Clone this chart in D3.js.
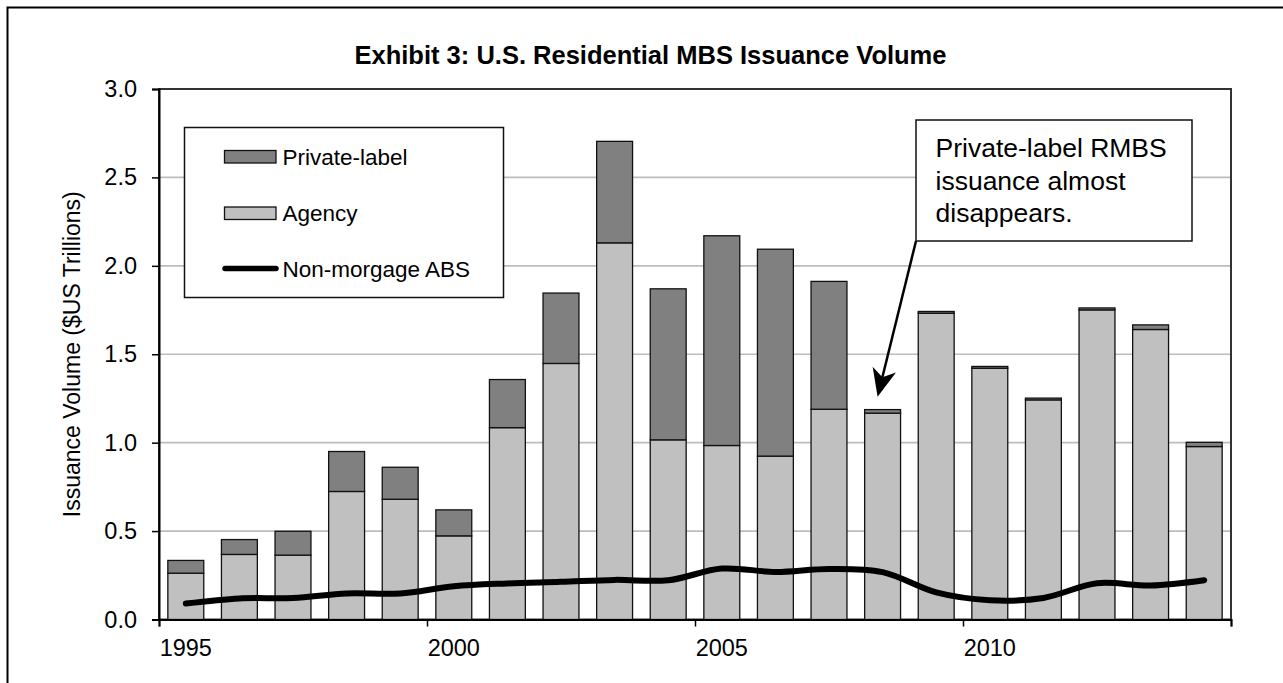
<!DOCTYPE html>
<html>
<head>
<meta charset="utf-8">
<script src="https://cdn.jsdelivr.net/npm/d3@7"></script>
<style>
  html, body { margin: 0; padding: 0; background: #fff; }
  svg { display: block; }
  text { font-family: "Liberation Sans", Arial, sans-serif; fill: #000; }
</style>
</head>
<body>
<svg id="chart" width="1283" height="683"></svg>
<script>
// ---- data ----
const years = ["1995","1996","1997","1998","1999","2000","2001","2002","2003","2004",
               "2005","2006","2007","2008","2009","2010","2011","2012","2013","2014"];
const agency = [0.262,0.368,0.364,0.724,0.680,0.473,1.085,1.448,2.130,1.016,
                0.984,0.924,1.189,1.167,1.732,1.421,1.242,1.751,1.640,0.978];
const privateLabel = [0.072,0.084,0.135,0.226,0.181,0.147,0.272,0.398,0.574,0.854,
                      1.186,1.170,0.723,0.020,0.010,0.010,0.010,0.011,0.026,0.024];
const nonMortgageABS = [0.090,0.119,0.122,0.147,0.147,0.188,0.204,0.213,0.224,0.222,
                        0.288,0.269,0.286,0.268,0.153,0.109,0.122,0.205,0.192,0.222];
const yTicks = [0, 0.5, 1.0, 1.5, 2.0, 2.5, 3.0];
const xTickLabels = ["1995","2000","2005","2010"];
const seriesNames = ["Private-label", "Agency", "Non-morgage ABS"];
const titleText = "Exhibit 3: U.S. Residential MBS Issuance Volume";
const yLabel = "Issuance Volume ($US Trillions)";
const noteLines = ["Private-label RMBS", "issuance almost", "disappears."];
const noteYear = "2008", noteValue = 1.26;

// ---- layout ----
const svg = d3.select("#chart");
const plot = { left: 159, right: 1231, top: 89, bottom: 619.5 };

const x = d3.scaleBand().domain(years).range([plot.left, plot.right])
  .paddingInner(0.33).paddingOuter(0.165);
const xIdx = d3.scaleLinear().domain([0, years.length]).range([plot.left, plot.right]);
const y = d3.scaleLinear().domain([0, 3]).range([plot.bottom, plot.top]);

// outer frame (top and left edges visible)
svg.append("path").attr("d", `M7.5,683 L7.5,7.5 L1283,7.5`)
  .attr("fill", "none").attr("stroke", "#000").attr("stroke-width", 2);

// title
svg.append("text").attr("x", 650.5).attr("y", 64)
  .attr("text-anchor", "middle")
  .style("font-family", "'Liberation Sans Narrow', 'Liberation Sans', Arial, sans-serif")
  .style("font-weight", "bold").style("font-size", "26.5px")
  .attr("textLength", 592).attr("lengthAdjust", "spacingAndGlyphs")
  .text(titleText);

// gridlines
svg.append("g").selectAll("line").data(yTicks.filter(d => d > 0 && d < 3)).join("line")
  .attr("x1", plot.left).attr("x2", plot.right)
  .attr("y1", d => y(d)).attr("y2", d => y(d))
  .attr("stroke", "#bdbdbd").attr("stroke-width", 1.6);

// plot area border
svg.append("rect").attr("x", plot.left).attr("y", plot.top)
  .attr("width", plot.right - plot.left).attr("height", plot.bottom - plot.top)
  .attr("fill", "none").attr("stroke", "#333").attr("stroke-width", 2);

// stacked bars
const stackData = years.map((yr, i) => ({ year: yr, agency: agency[i], privateLabel: privateLabel[i] }));
const stack = d3.stack().keys(["agency", "privateLabel"])(stackData);
const fills = { agency: "#c0c0c0", privateLabel: "#808080" };
svg.append("g").selectAll("g").data(stack).join("g")
  .attr("fill", d => fills[d.key])
  .selectAll("rect").data(d => d).join("rect")
  .attr("x", d => x(d.data.year))
  .attr("width", x.bandwidth())
  .attr("y", d => y(d[1]))
  .attr("height", d => y(d[0]) - y(d[1]))
  .attr("stroke", "#111").attr("stroke-width", 1.3);

// line
const line = d3.line()
  .x((d, i) => x(years[i]) + x.bandwidth() / 2)
  .y(d => y(d))
  .curve(d3.curveCatmullRom.alpha(0.5));
svg.append("path").datum(nonMortgageABS).attr("d", line)
  .attr("fill", "none").attr("stroke", "#000").attr("stroke-width", 6)
  .attr("stroke-linecap", "round").attr("stroke-linejoin", "round");

// y axis
const yAxis = svg.append("g").attr("transform", `translate(${plot.left},0)`)
  .call(d3.axisLeft(y).tickValues(yTicks).tickFormat(d3.format(".1f"))
    .tickSize(7).tickPadding(15));
yAxis.select(".domain").attr("stroke", "#000").attr("stroke-width", 2);
yAxis.selectAll(".tick line").attr("stroke", "#000").attr("stroke-width", 1.5);
yAxis.selectAll("text").style("font-size", "23.5px").style("font-family", "'Liberation Sans', Arial, sans-serif");

// x axis: tick marks at every 5 category boundaries
const xAxisTicks = svg.append("g").attr("transform", `translate(0,${plot.bottom})`)
  .call(d3.axisBottom(xIdx).tickValues(d3.range(0, years.length + 1, 5)).tickFormat("").tickSize(7));
xAxisTicks.select(".domain").attr("stroke", "#000").attr("stroke-width", 2);
xAxisTicks.selectAll(".tick line").attr("stroke", "#000").attr("stroke-width", 1.5);

// x labels centered on categories
const xAxisLabels = svg.append("g").attr("transform", `translate(0,${plot.bottom})`)
  .call(d3.axisBottom(x).tickValues(xTickLabels).tickSize(0));
xAxisLabels.select(".domain").remove();
xAxisLabels.selectAll("text").attr("y", 36.5).attr("dy", null)
  .style("font-size", "23.5px").style("font-family", "'Liberation Sans', Arial, sans-serif");

// y label
svg.append("text")
  .attr("transform", `translate(79.5,${(plot.top + plot.bottom) / 2}) rotate(-90)`)
  .attr("text-anchor", "middle").style("font-size", "23px")
  .text(yLabel);

// legend
const lg = svg.append("g");
lg.append("rect").attr("x", 184.5).attr("y", 127.5).attr("width", 319).attr("height", 170)
  .attr("fill", "#fff").attr("stroke", "#111").attr("stroke-width", 1.5);
const legendRows = [
  { name: seriesNames[0], type: "rect", fill: fills.privateLabel, cy: 156.5 },
  { name: seriesNames[1], type: "rect", fill: fills.agency, cy: 213 },
  { name: seriesNames[2], type: "line", cy: 268.5 }
];
legendRows.forEach(r => {
  if (r.type === "rect") {
    lg.append("rect").attr("x", 224.5).attr("y", r.cy - 6).attr("width", 51.5).attr("height", 12.5)
      .attr("fill", r.fill).attr("stroke", "#111").attr("stroke-width", 1.3);
  } else {
    lg.append("line").attr("x1", 225).attr("x2", 276).attr("y1", r.cy).attr("y2", r.cy)
      .attr("stroke", "#000").attr("stroke-width", 5.5).attr("stroke-linecap", "round");
  }
  lg.append("text").attr("x", 282.5).attr("y", r.cy + 8)
    .style("font-size", "22.5px").text(r.name);
});

// annotation
const note = svg.append("g");
const box = { x: 916, y: 120, w: 276, h: 121 };
note.append("rect").attr("x", box.x).attr("y", box.y).attr("width", box.w).attr("height", box.h)
  .attr("fill", "#fff").attr("stroke", "#111").attr("stroke-width", 1.5);
noteLines.forEach((t, i) => {
  note.append("text").attr("x", 935.5).attr("y", 157 + i * 32.5)
    .style("font-size", "26.5px").text(t);
});
const tip = [x(noteYear) + x.bandwidth() / 2 - 5, y(noteValue)];
const start = [box.x, box.y + box.h];
const dx = tip[0] - start[0], dy = tip[1] - start[1];
const len = Math.hypot(dx, dy);
const ux = dx / len, uy = dy / len, px = -uy, py = ux;
const headL = 28, headW = 12, notch = 20;
note.append("line").attr("x1", start[0]).attr("y1", start[1])
  .attr("x2", tip[0] - ux * notch).attr("y2", tip[1] - uy * notch)
  .attr("stroke", "#000").attr("stroke-width", 2.5);
const back = [tip[0] - ux * headL, tip[1] - uy * headL];
const nb = [tip[0] - ux * notch, tip[1] - uy * notch];
note.append("path")
  .attr("d", `M${tip[0]},${tip[1]} L${back[0] + px * headW},${back[1] + py * headW} L${nb[0]},${nb[1]} L${back[0] - px * headW},${back[1] - py * headW} Z`)
  .attr("fill", "#000");
</script>
</body>
</html>
